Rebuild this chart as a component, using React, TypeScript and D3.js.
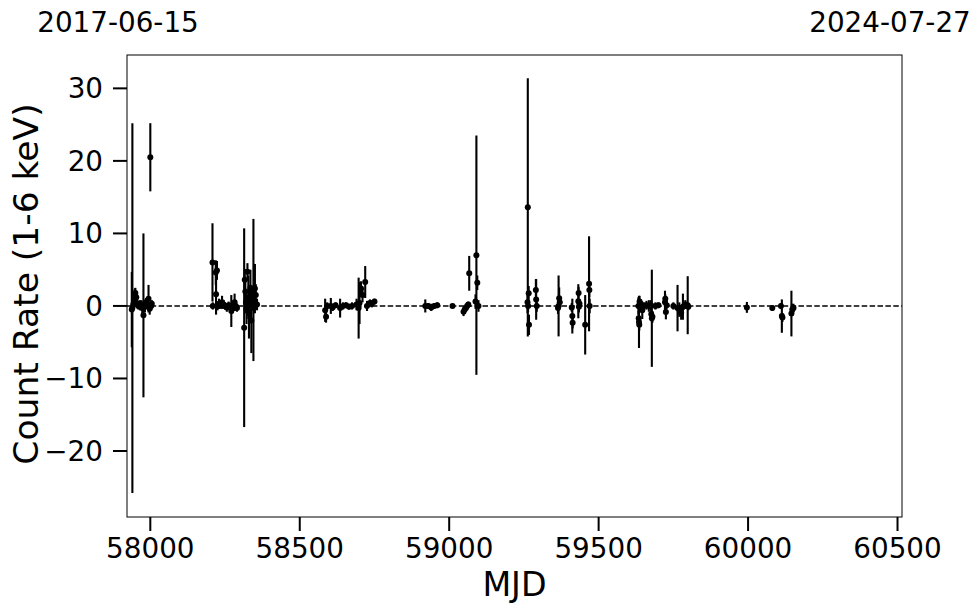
import React from "react";
import * as d3 from "d3";

const mjd = [
  57938, 57940, 57943, 57946, 57948, 57950, 57953, 57957, 57960, 57965, 57970, 57973, 57977, 57982, 57986, 57990, 57994, 57998, 58000, 58003, 58005,
  58208, 58209, 58219, 58223, 58220, 58225, 58230, 58235, 58240, 58245, 58250, 58256, 58262, 58271, 58276, 58282, 58286, 58290,
  58314, 58316, 58318, 58320, 58322, 58325, 58328, 58330, 58333, 58335, 58338, 58340, 58345, 58347, 58350, 58353, 58357,
  58585, 58588, 58592, 58604, 58610, 58620, 58635, 58645, 58655, 58665, 58675, 58690, 58697, 58700, 58705, 58710, 58719, 58725, 58735, 58741, 58750,
  58920, 58930, 58940, 58950, 58960, 59011, 59048, 59052, 59056, 59060, 59064, 59067, 59088, 59091, 59094, 59098,
  59262, 59263, 59264, 59266, 59267, 59290, 59291, 59293, 59364, 59366, 59368, 59370, 59410, 59412, 59413, 59432, 59433, 59434, 59436, 59455, 59468, 59469, 59470,
  59633, 59634, 59635, 59636, 59637, 59640, 59646, 59652, 59660, 59668, 59675, 59676, 59678, 59680, 59690, 59700, 59722, 59723, 59725, 59728, 59750, 59764, 59770, 59776, 59782, 59785, 59790, 59798, 59800,
  59996, 60081, 60110, 60113, 60115, 60145, 60148, 60152,
];
const rate = [
  -0.5, -0.3, 0.2, 0.9, 1.5, 1.8, 1.2, 0.3, 0.0, 0.1, 0.2, -0.3, -1.3, 0.0, 0.4, 0.0, 1.0, -0.4, 20.5, 0.0, 0.3,
  6.0, 0.0, 4.6, 4.9, 1.6, 0.0, 0.3, 0.1, 0.5, 0.2, 0.0, -0.2, 0.1, -0.7, -0.3, 0.5, 0.0, -0.3,
  -3.0, 3.6, 2.0, 0.5, -0.5, 4.7, 1.2, -1.0, 0.3, 2.5, -2.0, 0.8, 2.2, 0.0, 2.4, 1.5, 0.2,
  -0.6, -1.5, 0.0, 0.0, -0.2, 0.1, -0.3, 0.0, 0.1, -0.1, 0.0, 0.2, -0.3, 0.4, 2.4, 1.5, 3.3, 0.0, 0.4, 0.3, 0.6,
  0.0, 0.0, -0.2, 0.0, 0.1, 0.0, -0.8, -0.5, -0.3, 0.0, 0.2, 4.5, 0.6, 7.0, 3.2, 0.0,
  0.5, 13.6, 0.0, 1.75, -2.6, 2.2, 0.9, 0.0, -0.3, 0.0, 1.06, 0.5, -0.2, -1.4, -2.3, 0.65, 1.8, -0.1, 0.3, -2.6, 3.05, 2.2, 0.0,
  0.0, -1.7, -2.2, -2.6, 0.6, 0.3, -0.6, 0.0, 0.1, 0.0, 0.1, -1.1, -1.7, -1.5, 0.0, 0.1, 0.5, 1.0, -0.85, 0.1, 0.0, -0.3, -0.5, -0.9, -0.1, 0.0, 0.2, 0.1, -0.1,
  -0.2, -0.3, 0.0, -1.4, -1.6, -1.05, -0.5, -0.3,
];
const err = [
  5.2, 25.5, 0.8, 0.8, 0.9, 0.7, 0.6, 0.6, 0.5, 0.7, 0.6, 0.8, 11.3, 0.9, 0.7, 0.5, 1.9, 0.8, 4.7, 0.6, 0.5,
  5.4, 0.5, 1.7, 1.3, 2.8, 0.6, 0.7, 0.5, 0.9, 0.6, 0.5, 0.6, 0.5, 2.2, 0.7, 1.2, 0.6, 0.5,
  13.7, 1.5, 2.0, 1.5, 2.0, 1.2, 3.0, 3.5, 2.0, 2.5, 4.5, 1.5, 9.8, 1.0, 3.4, 1.5, 0.8,
  1.6, 0.8, 0.5, 1.1, 0.5, 0.4, 1.3, 0.5, 0.4, 0.4, 0.5, 0.8, 4.2, 2.9, 1.0, 1.0, 2.2, 0.7, 0.5, 0.5, 0.4,
  0.9, 0.4, 0.5, 0.4, 0.4, 0.3, 0.6, 0.5, 0.5, 0.5, 0.4, 2.4, 1.0, 16.5, 1.0, 0.8,
  1.5, 17.8, 0.8, 1.0, 1.4, 1.5, 2.8, 0.8, 0.8, 4.2, 1.5, 0.6, 0.6, 2.4, 0.8, 2.35, 0.8, 0.8, 0.6, 4.1, 6.55, 1.0, 1.0,
  1.2, 1.0, 3.6, 0.8, 0.8, 0.6, 1.2, 0.5, 0.6, 0.8, 0.7, 1.0, 6.7, 0.8, 0.5, 0.4, 1.6, 0.6, 1.0, 0.5, 0.5, 3.2, 1.0, 1.0, 1.8, 0.5, 0.6, 4.0, 0.5,
  0.75, 0.4, 0.4, 2.3, 0.6, 3.15, 0.8, 0.6,
];

const xTicks = [58000, 58500, 59000, 59500, 60000, 60500];
const yTicks = [30, 20, 10, 0, -10, -20];
const dateLabels = ["2017-06-15", "2024-07-27"];

const W = 980;
const H = 613;
const M = { left: 127, right: 902, top: 55, bottom: 517 };
const FONT = "'DejaVu Sans', sans-serif";

export default function App() {
  const x = d3.scaleLinear().domain([57922, 60515]).range([M.left, M.right]);
  const y = d3.scaleLinear().domain([-29.1, 34.6]).range([M.bottom, M.top]);
  const fmt = (v: number) => (v < 0 ? "\u2212" + Math.abs(v) : String(v));
  const tickLen = 14;

  return (
    <svg
      width={W}
      height={H}
      style={{ position: "absolute", left: 0, top: 0, background: "#fff" }}
      fontFamily={FONT}
    >
      <rect x={0} y={0} width={W} height={H} fill="#fff" />
      {/* zero line */}
      <line
        x1={M.left}
        x2={M.right}
        y1={y(0)}
        y2={y(0)}
        stroke="#000"
        strokeWidth={1.5}
        strokeDasharray="5.5,2.4"
      />
      {/* error bars */}
      <g stroke="#000" strokeWidth={2.1}>
        {mjd.map((m, i) => (
          <line key={"e" + i} x1={x(m)} x2={x(m)} y1={y(rate[i] + err[i])} y2={y(rate[i] - err[i])} />
        ))}
      </g>
      <g fill="#000">
        {mjd.map((m, i) => (
          <circle key={"p" + i} cx={x(m)} cy={y(rate[i])} r={3} />
        ))}
      </g>
      {/* frame */}
      <rect
        x={M.left}
        y={M.top}
        width={M.right - M.left}
        height={M.bottom - M.top}
        fill="none"
        stroke="#000"
        strokeWidth={1}
      />
      {/* x ticks */}
      {xTicks.map((t) => (
        <g key={"xt" + t}>
          <line x1={x(t)} x2={x(t)} y1={M.bottom} y2={M.bottom + tickLen} stroke="#000" strokeWidth={2} />
          <text x={x(t)} y={558} textAnchor="middle" fontSize={27.8}>
            {fmt(t)}
          </text>
        </g>
      ))}
      {/* y ticks */}
      {yTicks.map((t) => (
        <g key={"yt" + t}>
          <line x1={M.left - tickLen} x2={M.left} y1={y(t)} y2={y(t)} stroke="#000" strokeWidth={2} />
          <text x={M.left - tickLen - 10} y={y(t)} dy="0.36em" textAnchor="end" fontSize={27.8}>
            {fmt(t)}
          </text>
        </g>
      ))}
      <text x={(M.left + M.right) / 2} y={596} textAnchor="middle" fontSize={33.3}>
        MJD
      </text>
      <text
        transform={`translate(38,${(M.top + M.bottom) / 2 - 2}) rotate(-90)`}
        textAnchor="middle"
        fontSize={34.5}
      >
        Count Rate (1-6 keV)
      </text>
      <text x={118} y={32} textAnchor="middle" fontSize={27.8}>
        {dateLabels[0]}
      </text>
      <text x={890} y={32} textAnchor="middle" fontSize={27.8}>
        {dateLabels[1]}
      </text>
    </svg>
  );
}
